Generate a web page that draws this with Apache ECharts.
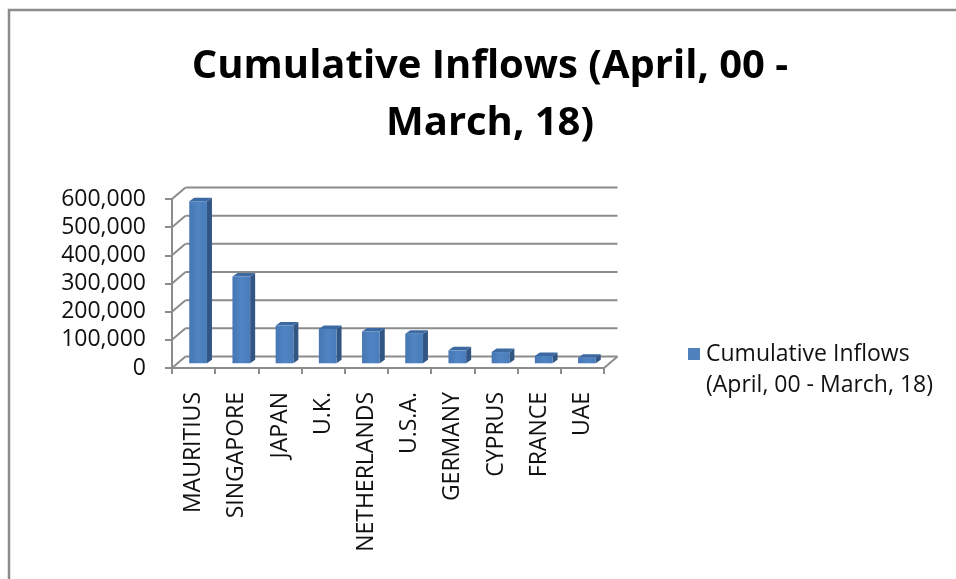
<!DOCTYPE html>
<html>
<head>
<meta charset="utf-8">
<script src="https://cdn.jsdelivr.net/npm/echarts@6/dist/echarts.min.js"></script>
<style>
  html, body { margin: 0; padding: 0; background: #ffffff; }
  #chart { width: 956px; height: 579px; }
</style>
</head>
<body>
<div id="chart"></div>
<script>
// Cumulative FDI inflows by source country, April 2000 - March 2018
const categories = ['MAURITIUS', 'SINGAPORE', 'JAPAN', 'U.K.', 'NETHERLANDS', 'U.S.A.', 'GERMANY', 'CYPRUS', 'FRANCE', 'UAE'];
const inflows = [575000, 308000, 134000, 122000, 113000, 105000, 46000, 40000, 26000, 20000];
const valueTicks = [0, 100000, 200000, 300000, 400000, 500000, 600000];
const titleLines = ['Cumulative Inflows (April, 00 -', 'March, 18)'];
const legendLines = ['Cumulative Inflows', '(April, 00 - March, 18)'];

// Pseudo-3D geometry: offset of the back wall, of the column plane and the column depth
const WALL_DX = 13.5, WALL_DY = -11.5;
const BAR_DX = 4.5, BAR_DY = -4.7;
const COL_DX = 5, COL_DY = -3.5;
const BAR_RATIO = 0.41;
const LINE_COLOR = '#8c8c8c';
const FONT = '"Open Sans", "Liberation Sans", sans-serif';

const chart = echarts.init(document.getElementById('chart'), null, { renderer: 'canvas' });

function lineEl(x1, y1, x2, y2) {
  return {
    type: 'line',
    shape: { x1: x1, y1: y1, x2: x2, y2: y2 },
    style: { stroke: LINE_COLOR, lineWidth: 2 }
  };
}

// Back-wall gridlines plus the side-wall diagonals for every value tick
function renderWall(params, api) {
  const cs = params.coordSys;
  const v = api.value(1);
  const y = api.coord([0, v])[1];
  const x0 = cs.x, x1 = cs.x + cs.width;
  const children = [
    lineEl(x0, y, x0 + WALL_DX, y + WALL_DY),
    lineEl(x0 + WALL_DX, y + WALL_DY, x1 + WALL_DX, y + WALL_DY)
  ];
  if (v === 0) {
    children.push(lineEl(x1, y, x1 + WALL_DX, y + WALL_DY));
  }
  return { type: 'group', children: children };
}

// Column drawn as a front face, a shaded side face and a top face
function renderColumn(params, api) {
  const i = api.value(0);
  const v = api.value(1);
  const base = api.coord([i, 0]);
  const top = api.coord([i, v]);
  const bw = api.size([1, 0])[0] * BAR_RATIO;
  const xl = base[0] - bw / 2 + BAR_DX;
  const xr = xl + bw;
  const yb = base[1] + BAR_DY;
  const yt = top[1] + BAR_DY;
  return {
    type: 'group',
    children: [
      {
        type: 'polygon',
        shape: { points: [[xr, yt], [xr + COL_DX, yt + COL_DY], [xr + COL_DX, yb + COL_DY], [xr, yb]] },
        style: { fill: '#325684' }
      },
      {
        type: 'polygon',
        shape: { points: [[xl, yt], [xl + COL_DX, yt + COL_DY], [xr + COL_DX, yt + COL_DY], [xr, yt]] },
        style: { fill: '#3d69a2' }
      },
      {
        type: 'rect',
        shape: { x: xl, y: yt, width: bw, height: yb - yt },
        style: {
          fill: new echarts.graphic.LinearGradient(0, 0, 1, 0, [
            { offset: 0, color: '#4677b4' },
            { offset: 0.5, color: '#5084c2' },
            { offset: 1, color: '#4a7cba' }
          ])
        }
      }
    ]
  };
}

const option = {
  backgroundColor: '#ffffff',
  animation: false,
  grid: { left: 172, top: 199, width: 432, height: 169 },
  xAxis: {
    type: 'category',
    data: categories,
    boundaryGap: true,
    axisLine: { lineStyle: { color: LINE_COLOR, width: 2 } },
    axisTick: { show: true, length: 6, lineStyle: { color: LINE_COLOR, width: 2 } },
    axisLabel: {
      rotate: 90,
      interval: 0,
      margin: 24,
      color: '#111111',
      fontFamily: FONT,
      fontSize: 23
    },
    splitLine: { show: false }
  },
  yAxis: {
    type: 'value',
    min: 0,
    max: 600000,
    interval: 100000,
    axisLine: { show: true, lineStyle: { color: LINE_COLOR, width: 2 } },
    axisTick: { show: true, length: 7, lineStyle: { color: LINE_COLOR, width: 2 } },
    axisLabel: {
      margin: 26,
      color: '#111111',
      fontFamily: FONT,
      fontSize: 23,
      formatter: function (v) { return v.toLocaleString('en-US'); }
    },
    splitLine: { show: false }
  },
  series: [
    {
      type: 'custom',
      name: 'walls',
      silent: true,
      z: 1,
      renderItem: renderWall,
      data: valueTicks.map(function (v) { return [0, v]; })
    },
    {
      type: 'custom',
      name: legendLines.join(' '),
      z: 3,
      renderItem: renderColumn,
      data: inflows.map(function (v, i) { return [i, v]; })
    }
  ],
  graphic: [
    {
      type: 'polyline',
      silent: true,
      shape: { points: [[9, 579], [9, 10], [956, 10]] },
      style: { stroke: '#8c8c8c', lineWidth: 2.5, fill: null }
    },
    {
      type: 'text',
      silent: true,
      style: {
        x: 490, y: 38,
        text: titleLines.join('\n'),
        textAlign: 'center',
        textVerticalAlign: 'top',
        font: 'bold 40px ' + FONT,
        lineHeight: 57,
        fill: '#000000'
      }
    },
    {
      type: 'rect',
      silent: true,
      shape: { x: 688, y: 348, width: 12, height: 12 },
      style: { fill: '#4f81bd' }
    },
    {
      type: 'text',
      silent: true,
      style: {
        x: 706, y: 339,
        text: legendLines.join('\n'),
        textAlign: 'left',
        textVerticalAlign: 'top',
        font: '23px ' + FONT,
        lineHeight: 31,
        fill: '#111111'
      }
    }
  ]
};

chart.setOption(option);
</script>
</body>
</html>
